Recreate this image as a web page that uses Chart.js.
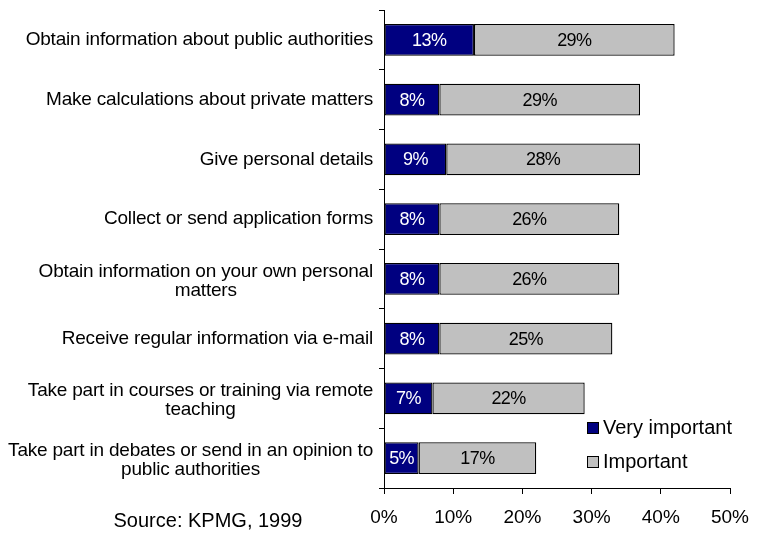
<!DOCTYPE html>
<html lang="en">
<head>
<meta charset="UTF-8">
<title>Importance of online services</title>
<script src="https://cdn.jsdelivr.net/npm/chart.js"></script>
<style>
    body { margin: 0; padding: 0; background: #fff; }
    #chart { display: block; }
</style>
</head>
<body>
<canvas id="chart" width="758" height="535"></canvas>
<script>
    // categories, top to bottom (multi-line labels as arrays)
    var categories = [
        ['Obtain information about public authorities'],
        ['Make calculations about private matters'],
        ['Give personal details'],
        ['Collect or send application forms'],
        ['Obtain information on your own personal', 'matters'],
        ['Receive regular information via e-mail'],
        ['Take part in courses or training via remote', 'teaching'],
        ['Take part in debates or send in an opinion to', 'public authorities']
    ];
    var veryImportant = [13, 8, 9, 8, 8, 8, 7, 5];
    var important = [29, 29, 28, 26, 26, 25, 22, 17];
    var seriesNames = ['Very important', 'Important'];
    var seriesColors = ['#000080', '#c0c0c0'];
    var xMax = 50;
    var xStep = 10;
    var sourceText = 'Source: KPMG, 1999';

    var FONT = '"Liberation Sans", Arial, sans-serif';

    // category labels: block right-aligned against the axis, lines centred inside it
    var categoryLabels = {
        id: 'categoryLabels',
        afterDraw: function (chart) {
            var ctx = chart.ctx;
            var y = chart.scales.y;
            ctx.save();
            ctx.font = '19px ' + FONT;
            ctx.letterSpacing = '-0.2px';
            ctx.fillStyle = '#000';
            ctx.textAlign = 'center';
            ctx.textBaseline = 'middle';
            var right = y.right - 11;
            var lh = 19;
            categories.forEach(function (lines, i) {
                var w = 0;
                lines.forEach(function (l) { w = Math.max(w, ctx.measureText(l).width); });
                var cy = y.getPixelForValue(i) + (lines.length > 1 ? 2 : 0);
                var top = cy - (lines.length - 1) * lh / 2;
                lines.forEach(function (l, j) {
                    ctx.fillText(l, right - w / 2, top + j * lh);
                });
            });
            ctx.restore();
        }
    };

    // percentage inside each bar segment
    var segmentLabels = {
        id: 'segmentLabels',
        afterDatasetsDraw: function (chart) {
            var ctx = chart.ctx;
            ctx.save();
            ctx.font = '18px ' + FONT;
            ctx.letterSpacing = '-0.6px';
            ctx.textAlign = 'center';
            ctx.textBaseline = 'middle';
            chart.data.datasets.forEach(function (ds, di) {
                ctx.fillStyle = di === 0 ? '#fff' : '#000';
                chart.getDatasetMeta(di).data.forEach(function (bar, i) {
                    ctx.fillText(ds.data[i] + '%', (bar.x + bar.base) / 2, bar.y + 1);
                });
            });
            ctx.restore();
        }
    };

    // legend in the lower right of the plot, plus source note
    var legendAndSource = {
        id: 'legendAndSource',
        afterDraw: function (chart) {
            var ctx = chart.ctx;
            ctx.save();
            ctx.font = '20px ' + FONT;
            ctx.textBaseline = 'middle';
            ctx.textAlign = 'left';
            var rows = [428, 462];
            seriesNames.forEach(function (name, i) {
                ctx.fillStyle = seriesColors[i];
                ctx.fillRect(587.5, rows[i] - 5.5, 11, 11);
                ctx.strokeStyle = '#000';
                ctx.lineWidth = 1;
                ctx.strokeRect(587.5, rows[i] - 5.5, 11, 11);
                ctx.fillStyle = '#000';
                ctx.fillText(name, 603, rows[i]);
            });
            ctx.textAlign = 'center';
            ctx.fillText(sourceText, 208, 521);
            ctx.restore();
        }
    };

    new Chart(document.getElementById('chart'), {
        type: 'bar',
        data: {
            labels: categories.map(function (c) { return c.join(' '); }),
            datasets: [{
                label: seriesNames[0],
                data: veryImportant,
                backgroundColor: seriesColors[0],
                borderColor: '#000',
                borderWidth: 1.3,
                borderSkipped: false
            }, {
                label: seriesNames[1],
                data: important,
                backgroundColor: seriesColors[1],
                borderColor: '#000',
                borderWidth: 1.3,
                borderSkipped: false
            }]
        },
        options: {
            indexAxis: 'y',
            responsive: false,
            animation: false,
            layout: { padding: { left: 374, right: 28, top: 10, bottom: 0 } },
            datasets: { bar: { categoryPercentage: 1, barPercentage: 0.53 } },
            plugins: {
                legend: { display: false },
                tooltip: { enabled: false }
            },
            scales: {
                x: {
                    stacked: true,
                    min: 0,
                    max: xMax,
                    afterFit: function (s) {
                        s.height = 47;
                        s.paddingLeft = 0;
                        s.paddingRight = 0;
                    },
                    ticks: {
                        stepSize: xStep,
                        padding: 12,
                        color: '#000',
                        font: { family: FONT, size: 19 },
                        callback: function (v) { return v + '%'; }
                    },
                    grid: { drawOnChartArea: false, tickLength: 6, color: '#000' },
                    border: { color: '#000', width: 1 }
                },
                y: {
                    stacked: true,
                    afterFit: function (s) { s.width = 10; },
                    ticks: { display: false },
                    grid: { drawOnChartArea: false, tickLength: 5, offset: true, color: '#000' },
                    border: { color: '#000', width: 1 }
                }
            }
        },
        plugins: [categoryLabels, segmentLabels, legendAndSource]
    });
</script>
</body>
</html>
